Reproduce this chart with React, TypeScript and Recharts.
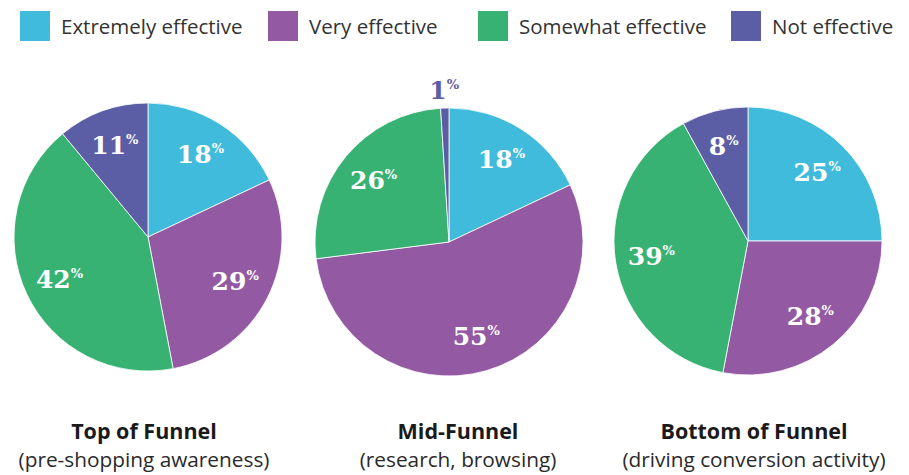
import React from "react";
import { PieChart, Pie, Cell } from "recharts";

const categories = ["Extremely effective", "Very effective", "Somewhat effective", "Not effective"];
const colors = ["#41BBDB", "#9359A3", "#38B272", "#5B5DA5"];

const topFunnel = [18, 29, 42, 11];
const midFunnel = [18, 55, 26, 1];
const bottomFunnel = [25, 28, 39, 8];

const funnelTitles = ["Top of Funnel", "Mid-Funnel", "Bottom of Funnel"];
const funnelSubtitles = ["(pre-shopping awareness)", "(research, browsing)", "(driving conversion activity)"];

const toData = (vals: number[]) => vals.map((v, i) => ({ name: categories[i], value: v }));

const RADIAN = Math.PI / 180;

const renderLabel = (props: any) => {
  const { cx, cy, midAngle, outerRadius, value, index } = props;
  const small = value < 3;
  const r = small ? outerRadius + 18 : outerRadius * 0.73;
  const x = cx + r * Math.cos(-midAngle * RADIAN);
  const y = cy + r * Math.sin(-midAngle * RADIAN);
  return (
    <text
      x={x}
      y={y + 9}
      textAnchor="middle"
      fontFamily="'DejaVu Serif', serif"
      fontWeight="bold"
      fontSize={25}
      fill={small ? colors[index] : "#fff"}
    >
      {value}
      <tspan fontSize={13} dy={-10}>%</tspan>
    </text>
  );
};

const pies = [
  { data: toData(topFunnel), cx: 148, cy: 237 },
  { data: toData(midFunnel), cx: 449, cy: 242 },
  { data: toData(bottomFunnel), cx: 748, cy: 241 },
];

const legendLeft = [20, 268, 478, 731];
const titleCenters = [144, 458, 754];

export default function App() {
  return (
    <div style={{ position: "absolute", left: 0, top: 0, width: 909, height: 475, background: "#fff", overflow: "hidden" }}>
      <div style={{ position: "absolute", left: 0, top: 0 }}>
        <PieChart width={909} height={475} margin={{ top: 0, right: 0, bottom: 0, left: 0 }}>
          {pies.map((p, pi) => (
            <Pie
              key={pi}
              data={p.data}
              dataKey="value"
              nameKey="name"
              cx={p.cx}
              cy={p.cy}
              outerRadius={134}
              startAngle={90}
              endAngle={-270}
              stroke="#ffffff"
              strokeWidth={0.8}
              label={renderLabel}
              labelLine={false}
              isAnimationActive={false}
            >
              {p.data.map((d, i) => (
                <Cell key={i} fill={colors[i]} />
              ))}
            </Pie>
          ))}
        </PieChart>
      </div>
      {categories.map((c, i) => (
        <div
          key={c}
          style={{
            position: "absolute",
            left: legendLeft[i],
            top: 11,
            display: "flex",
            alignItems: "center",
            height: 30,
          }}
        >
          <div style={{ width: 30, height: 30, background: colors[i] }} />
          <span
            style={{
              marginLeft: 11,
              fontFamily: "'Open Sans', sans-serif",
              fontSize: 20.5,
              color: "#333",
              whiteSpace: "nowrap",
              lineHeight: "30px",
            }}
          >
            {c}
          </span>
        </div>
      ))}
      {funnelTitles.map((t, i) => (
        <div
          key={t}
          style={{
            position: "absolute",
            left: titleCenters[i] - 160,
            width: 320,
            top: 416,
            textAlign: "center",
            fontFamily: "'Open Sans', sans-serif",
            color: "#1a1a1a",
            lineHeight: "29px",
          }}
        >
          <div style={{ fontWeight: "bold", fontSize: 21.5 }}>{t}</div>
          <div style={{ fontSize: 20.8, color: "#2a2a2a" }}>{funnelSubtitles[i]}</div>
        </div>
      ))}
    </div>
  );
}
